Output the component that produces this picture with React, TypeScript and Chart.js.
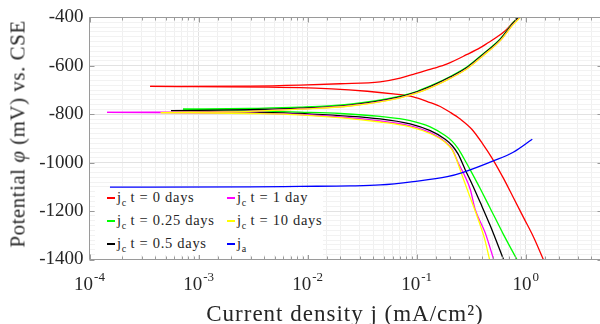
import React, { useEffect, useRef } from "react";
import { Chart, registerables } from "chart.js";

Chart.register(...registerables);

// current density j (mA/cm²) and potential (mV vs. CSE)
// t = 0 days
const jAnodic0 = [3.6e-4, 2.97e-3, 8.53e-3, 0.0199, 0.0462, 0.0706, 0.0929, 0.1416, 0.1905, 0.29, 0.383, 0.444, 0.548, 0.649, 0.767, 0.853];
const eAnodic0 = [-685, -684, -680, -674, -666, -651, -635, -611, -592, -553, -525, -507, -480, -455, -420, -400];
const jCathodic0 = [3.6e-4, 8.53e-3, 0.0352, 0.0608, 0.0929, 0.133, 0.1644, 0.2028, 0.2506, 0.32, 0.404, 0.489, 0.625, 0.773, 0.955, 1.18, 1.45];
const eCathodic0 = [-685, -690, -705, -716, -728, -752, -768, -792, -820, -862, -923, -980, -1065, -1146, -1227, -1308, -1400];
// t = 0.25 days
const jAnodic025 = [7.2e-4, 2.97e-3, 8.53e-3, 0.0245, 0.0706, 0.101, 0.1416, 0.203, 0.29, 0.407, 0.582, 0.767, 0.845];
const eAnodic025 = [-779, -776, -771, -758, -725, -705, -678, -644, -604, -550, -489, -421, -400];
const jCathodic025 = [7.2e-4, 2.97e-3, 8.53e-3, 0.0199, 0.0462, 0.0871, 0.133, 0.1824, 0.212, 0.24, 0.273, 0.3097, 0.383, 0.472, 0.622, 0.83];
const eCathodic025 = [-779, -785, -791, -797, -809, -826, -852, -888, -912, -942, -985, -1030, -1108, -1188, -1295, -1400];
// t = 0.5 days
const jAnodic05 = [5.6e-4, 2.97e-3, 8.53e-3, 0.0245, 0.0706, 0.101, 0.1416, 0.203, 0.29, 0.407, 0.582, 0.767, 0.853];
const eAnodic05 = [-785, -781, -775, -762, -728, -708, -681, -647, -607, -553, -492, -424, -400];
const jCathodic05 = [5.6e-4, 2.97e-3, 8.53e-3, 0.0462, 0.0871, 0.133, 0.1824, 0.212, 0.24, 0.279, 0.323, 0.383, 0.472, 0.625];
const eCathodic05 = [-785, -791, -797, -819, -840, -868, -903, -930, -965, -1030, -1090, -1165, -1260, -1400];
// t = 1 day
const jAnodic1 = [1.45e-4, 2.97e-3, 8.53e-3, 0.0245, 0.0706, 0.101, 0.1416, 0.203, 0.29, 0.407, 0.582, 0.767, 0.881];
const eAnodic1 = [-792, -787, -778, -765, -731, -711, -685, -651, -611, -557, -496, -428, -400];
const jCathodic1 = [1.45e-4, 2.97e-3, 8.53e-3, 0.0462, 0.0871, 0.133, 0.1824, 0.212, 0.24, 0.273, 0.3097, 0.342, 0.425, 0.508];
const eCathodic1 = [-792, -796, -801, -828, -848, -876, -914, -945, -1000, -1050, -1110, -1190, -1290, -1400];
// t = 10 days
const jAnodic10 = [4.5e-4, 2.97e-3, 8.53e-3, 0.0245, 0.0706, 0.101, 0.1416, 0.203, 0.29, 0.407, 0.582, 0.767, 0.891];
const eAnodic10 = [-793, -788, -779, -766, -732, -712, -686, -652, -612, -558, -497, -430, -400];
const jCathodic10 = [4.5e-4, 2.97e-3, 8.53e-3, 0.0462, 0.0871, 0.133, 0.1824, 0.212, 0.2353, 0.261, 0.303, 0.344, 0.4176, 0.4656];
const eCathodic10 = [-793, -797, -803, -832, -852, -880, -916, -948, -995, -1053, -1133, -1200, -1312, -1400];
// j_a
const jAnodicA = [1.54e-4, 2.97e-3, 8.53e-3, 0.0245, 0.0462, 0.0929, 0.1905, 0.267, 0.504, 0.767, 1.148];
const eAnodicA = [-1101, -1100, -1098, -1096, -1092, -1078, -1058, -1040, -993, -957, -903];

const xTickExponents = [-4, -3, -2, -1, 0];
const xMin = 1e-4;
const xMax = 5;
const yMin = -1400;
const yMax = -400;
const yMajorStep = 200;
const yMinorStep = 20;

const RED = "#ff0000";
const GREEN = "#00ff00";
const BLACK = "#000000";
const MAGENTA = "#ff00ff";
const YELLOW = "#ffff00";
const BLUE = "#0000ff";
const AXIS = "#9a9a9a";
const TEXT = "#262626";
const FONT = '"Liberation Serif", "Times New Roman", serif';

type Series = { j: number[]; e: number[]; color: string };
// plotting order (later ones on top)
const seriesList: Series[] = [
  { j: jAnodic0, e: eAnodic0, color: RED },
  { j: jCathodic0, e: eCathodic0, color: RED },
  { j: jAnodic025, e: eAnodic025, color: GREEN },
  { j: jCathodic025, e: eCathodic025, color: GREEN },
  { j: jAnodic05, e: eAnodic05, color: BLACK },
  { j: jCathodic05, e: eCathodic05, color: BLACK },
  { j: jAnodic1, e: eAnodic1, color: MAGENTA },
  { j: jCathodic1, e: eCathodic1, color: MAGENTA },
  { j: jAnodic10, e: eAnodic10, color: YELLOW },
  { j: jCathodic10, e: eCathodic10, color: YELLOW },
  { j: jAnodicA, e: eAnodicA, color: BLUE },
];

const legendEntries = [
  { sub: "c", text: " t = 0 days", color: RED, col: 0, row: 0 },
  { sub: "c", text: " t = 0.25 days", color: GREEN, col: 0, row: 1 },
  { sub: "c", text: " t = 0.5 days", color: BLACK, col: 0, row: 2 },
  { sub: "c", text: " t = 1 day", color: MAGENTA, col: 1, row: 0 },
  { sub: "c", text: " t = 10 days", color: YELLOW, col: 1, row: 1 },
  { sub: "a", text: "", color: BLUE, col: 1, row: 2 },
];
const legendColX = [107, 227];
const legendRowY = [198, 221, 244];

const isPow10 = (v: number) => {
  const l = Math.log10(v);
  return Math.abs(l - Math.round(l)) < 1e-6;
};

const framePlugin = {
  id: "framePlugin",
  afterDraw(chart: any) {
    const { ctx, chartArea: a } = chart;
    const xs = chart.scales.x;
    const ys = chart.scales.y;
    const L = Math.floor(a.left) + 0.5;
    const T = Math.floor(a.top) + 0.5;
    const B = Math.floor(a.bottom) + 0.5;
    const R = Math.floor(a.right) + 0.5;
    ctx.save();
    ctx.strokeStyle = AXIS;
    ctx.lineWidth = 1;
    ctx.beginPath();
    for (const t of xs.ticks) {
      const px = Math.round(xs.getPixelForValue(t.value)) + 0.5;
      const len = isPow10(t.value) ? 5 : 3;
      ctx.moveTo(px, B);
      ctx.lineTo(px, B - len);
      ctx.moveTo(px, T);
      ctx.lineTo(px, T + len);
    }
    for (const t of ys.ticks) {
      if (Math.abs(t.value % yMajorStep) > 1e-6) continue;
      const py = Math.round(ys.getPixelForValue(t.value)) + 0.5;
      ctx.moveTo(L, py);
      ctx.lineTo(L + 5, py);
      ctx.moveTo(R, py);
      ctx.lineTo(R - 5, py);
    }
    ctx.moveTo(L, T);
    ctx.lineTo(R, T);
    ctx.lineTo(R, B);
    ctx.lineTo(L, B);
    ctx.closePath();
    ctx.stroke();

    ctx.fillStyle = TEXT;
    ctx.textBaseline = "alphabetic";
    ctx.textAlign = "left";
    for (const e of xTickExponents) {
      const px = xs.getPixelForValue(Math.pow(10, e));
      ctx.font = `19px ${FONT}`;
      const w1 = ctx.measureText("10").width;
      const sup = String(e);
      ctx.font = `13px ${FONT}`;
      const w2 = ctx.measureText(sup).width;
      const x0 = px - (w1 + w2 + 1) / 2;
      ctx.font = `19px ${FONT}`;
      ctx.fillText("10", x0, 290);
      ctx.font = `13px ${FONT}`;
      ctx.fillText(sup, x0 + w1 + 1, 281);
    }
    ctx.restore();
  },
};

export default function App() {
  const ref = useRef<HTMLCanvasElement | null>(null);

  useEffect(() => {
    if (!ref.current) return;
    const n = seriesList.length;
    const chart = new Chart(ref.current, {
      type: "line",
      data: {
        datasets: seriesList.map((s, i) => ({
          data: s.j.map((j, k) => ({ x: j, y: s.e[k] })),
          borderColor: s.color,
          backgroundColor: s.color,
          borderWidth: 1.3,
          pointRadius: 0,
          fill: false,
          cubicInterpolationMode: "monotone" as const,
          order: n - i,
        })),
      },
      options: {
        animation: false,
        responsive: false,
        devicePixelRatio: 1,
        layout: { padding: { top: 12.5, left: 0, right: 0, bottom: 0 } },
        plugins: { legend: { display: false }, tooltip: { enabled: false } },
        scales: {
          x: {
            type: "logarithmic",
            min: xMin,
            max: xMax,
            afterFit: (s: any) => {
              s.height = 64.5;
            },
            border: { display: false },
            grid: {
              drawTicks: false,
              color: (c: any) =>
                c.tick && isPow10(c.tick.value) ? "#e2e2e2" : "#f0f0f0",
              lineWidth: 1,
            },
            ticks: { display: false, autoSkip: false },
          },
          y: {
            type: "linear",
            min: yMin,
            max: yMax,
            afterFit: (s: any) => {
              s.width = 89.5;
            },
            border: { display: false },
            grid: {
              drawTicks: false,
              color: (c: any) =>
                c.tick && Math.abs(c.tick.value % yMajorStep) < 1e-6 ? "#e2e2e2" : "#f2f2f2",
              lineWidth: 1,
            },
            ticks: {
              stepSize: yMinorStep,
              autoSkip: false,
              padding: 6,
              color: TEXT,
              font: { family: FONT, size: 19 },
              callback: (v: any) => (Math.abs(Number(v) % yMajorStep) < 1e-6 ? String(v) : ""),
            },
          },
        },
      },
      plugins: [framePlugin],
    });
    return () => chart.destroy();
  }, []);

  return (
    <div
      style={{
        position: "absolute",
        left: 0,
        top: 0,
        width: 600,
        height: 324,
        overflow: "hidden",
        background: "#fff",
        fontFamily: FONT,
        color: TEXT,
      }}
    >
      <canvas ref={ref} width={602} height={324} style={{ display: "block", width: 602, height: 324 }} />
      <div
        style={{
          position: "absolute",
          left: 95,
          top: 188,
          width: 228,
          height: 67,
          background: "#fff",
        }}
      />
      {legendEntries.map((e, i) => (
        <div
          key={i}
          style={{
            position: "absolute",
            left: legendColX[e.col],
            top: legendRowY[e.row] - 9,
            height: 18,
            display: "flex",
            alignItems: "center",
            whiteSpace: "nowrap",
            fontSize: 14.5,
            lineHeight: "18px",
            letterSpacing: 0.7,
          }}
        >
          <span style={{ display: "inline-block", width: 8, height: 1.5, background: e.color, marginRight: 2 }} />
          <span>
            j
            <span style={{ fontSize: 10, position: "relative", top: 4, letterSpacing: 0 }}>{e.sub}</span>
            {e.text}
          </span>
        </div>
      ))}
      <div
        style={{
          position: "absolute",
          left: 345,
          top: 301.6,
          transform: "translateX(-50%)",
          whiteSpace: "nowrap",
          fontSize: 23,
          lineHeight: "23px",
          letterSpacing: 1,
        }}
      >
        Current density j (mA/cm²)
      </div>
      <div
        style={{
          position: "absolute",
          left: 18,
          top: 134,
          transform: "translate(-50%, -50%) rotate(-90deg)",
          whiteSpace: "nowrap",
          fontSize: 21,
          lineHeight: "21px",
          letterSpacing: 0.5,
        }}
      >
        Potential <i>φ</i> (mV) vs. CSE
      </div>
    </div>
  );
}
